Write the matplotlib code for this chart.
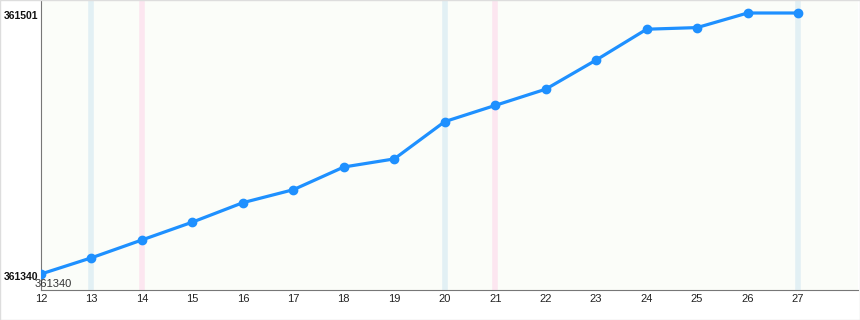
import matplotlib
matplotlib.use("Agg")
import matplotlib.pyplot as plt
import matplotlib.transforms as mtransforms

plt.rcParams["font.family"] = ["Liberation Sans", "DejaVu Sans"]

days = [12, 13, 14, 15, 16, 17, 18, 19, 20, 21, 22, 23, 24, 25, 26, 27]
values = [361340, 361350, 361361, 361372, 361384, 361392, 361406, 361411,
          361434, 361444, 361454, 361472, 361491, 361492, 361501, 361501]
blue_days = [13, 20, 27]
pink_days = [14, 21]
ytick_values = [361340, 361501]

fig = plt.figure(figsize=(8.6, 3.2), dpi=100)
fig.patch.set_facecolor("white")
ax = fig.add_axes([41/860, 30/320, (858-41)/860, 290/320])
ax.set_facecolor("#fbfdf9")

for d in blue_days:
    ax.axvline(d, color="#e2f0f4", lw=4, zorder=1)
for d in pink_days:
    ax.axvline(d, color="#fce6f0", lw=4, zorder=1)

ax.plot(days, values, color="#1e90ff", lw=2.3, marker="o", ms=6, zorder=3,
        solid_capstyle="round", solid_joinstyle="round")

ax.annotate(str(values[0]), (days[0], values[0]), xytext=(-4.5, -7.5),
            textcoords="offset points", fontsize=8, color="#333333",
            ha="left", va="center")

ax.set_xlim(12, 12 + (858-41)/50.47)
ylo = 361340 - 16/1.621
yhi = 361501 + 13/1.621
ax.set_ylim(ylo, yhi)

ax.set_xticks(days)
ax.set_xticklabels([str(d) for d in days], fontsize=8, color="#222222")
ax.set_yticks(ytick_values)
ax.set_yticklabels([str(v) for v in ytick_values], fontsize=7.5, fontweight="bold", color="#111111")
ax.tick_params(axis="both", length=0, pad=3)
ax.tick_params(axis="y", pad=2)
offset = mtransforms.ScaledTranslation(0, -2/72, fig.dpi_scale_trans)
for lbl in ax.get_yticklabels():
    lbl.set_verticalalignment("center")
    lbl.set_transform(lbl.get_transform() + offset)

for s in ["top", "right"]:
    ax.spines[s].set_visible(False)
ax.spines["left"].set_color("#777777")
ax.spines["bottom"].set_color("#777777")

# figure border
border = plt.Rectangle((0.0005, 0.0015), 0.999, 0.997, transform=fig.transFigure,
                       fill=False, edgecolor="#dddddd", lw=1)
fig.patches.append(border)

fig.savefig("out.png", dpi=100)
